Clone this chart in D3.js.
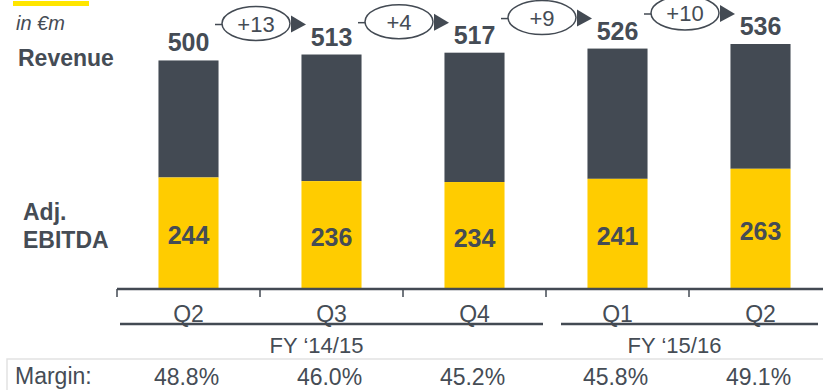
<!DOCTYPE html>
<html>
<head>
<meta charset="utf-8">
<script src="https://cdnjs.cloudflare.com/ajax/libs/d3/7.8.5/d3.min.js"></script>
<style>
body { margin: 0; background: #fff; }
svg { display: block; font-family: "Liberation Sans", Arial, sans-serif; }
.lbl { fill: #454c55; }
.bold { font-weight: bold; }
</style>
</head>
<body>
<div id="chart"></div>
<script>
var quarters = ["Q2", "Q3", "Q4", "Q1", "Q2b"];
var quarterLabels = ["Q2", "Q3", "Q4", "Q1", "Q2"];
var revenue = [500, 513, 517, 526, 536];
var ebitda = [244, 236, 234, 241, 263];
var deltas = ["+13", "+4", "+9", "+10"];
var margins = ["48.8%", "46.0%", "45.2%", "45.8%", "49.1%"];
var years = [
  {label: "FY \u201814/15", from: 0, to: 2},
  {label: "FY \u201815/16", from: 3, to: 4}
];

var W = 823, H = 390;
var dark = "#434a53", text = "#454c55", yellow = "#ffcc00";

var svg = d3.select("#chart").append("svg")
  .attr("width", W).attr("height", H);

var x = d3.scaleBand().domain(quarters)
  .range([117, 832]).paddingInner(0.58).paddingOuter(0.29);
var step = x.step();
var y = d3.scaleLinear().domain([0, 536]).range([289, 44]);

// header
svg.append("rect").attr("x", 13).attr("y", 1).attr("width", 76).attr("height", 5).attr("fill", "#ffe600");
svg.append("text").attr("class", "lbl").attr("x", 16).attr("y", 30)
  .style("font-size", "20px").style("font-style", "italic").text("in \u20acm");

svg.append("text").attr("class", "lbl bold").attr("x", 18).attr("y", 66)
  .style("font-size", "23px").text("Revenue");
svg.append("text").attr("class", "lbl bold").attr("x", 23).attr("y", 220)
  .style("font-size", "23px").text("Adj.");
svg.append("text").attr("class", "lbl bold").attr("x", 23).attr("y", 248)
  .style("font-size", "23px").text("EBITDA");

// bars
var g = svg.selectAll(".bar").data(quarters).enter().append("g");
g.append("rect")
  .attr("x", function(d) { return x(d); })
  .attr("y", function(d, i) { return y(revenue[i]); })
  .attr("width", x.bandwidth())
  .attr("height", function(d, i) { return y(ebitda[i]) - y(revenue[i]); })
  .attr("fill", dark);
g.append("rect")
  .attr("x", function(d) { return x(d); })
  .attr("y", function(d, i) { return y(ebitda[i]); })
  .attr("width", x.bandwidth())
  .attr("height", function(d, i) { return y(0) - y(ebitda[i]); })
  .attr("fill", yellow);
g.append("text").attr("class", "lbl bold")
  .attr("x", function(d) { return x(d) + x.bandwidth() / 2; })
  .attr("y", function(d, i) { return y(revenue[i]) - 9; })
  .attr("text-anchor", "middle").style("font-size", "25px")
  .text(function(d, i) { return revenue[i]; });
g.append("text").attr("class", "lbl bold")
  .attr("x", function(d) { return x(d) + x.bandwidth() / 2; })
  .attr("y", function(d, i) { return (y(ebitda[i]) + y(0)) / 2 + 11; })
  .attr("text-anchor", "middle").style("font-size", "25px")
  .text(function(d, i) { return ebitda[i]; });

// delta bubbles
deltas.forEach(function(t, i) {
  var cx = 117 + step * (i + 1) - 4;
  var cy = y(revenue[i + 1]) - 31;
  var rx = 34, ry = 17;
  svg.append("line").attr("x1", cx - rx - 7).attr("x2", cx - rx)
    .attr("y1", cy + 1).attr("y2", cy + 1).attr("stroke", dark).attr("stroke-width", 1.5);
  svg.append("ellipse").attr("cx", cx).attr("cy", cy).attr("rx", rx).attr("ry", ry)
    .attr("fill", "#fff").attr("stroke", dark).attr("stroke-width", 1.5);
  svg.append("text").attr("class", "lbl").attr("x", cx).attr("y", cy + 8)
    .attr("text-anchor", "middle").style("font-size", "22px").text(t);
  var ax = cx + rx + 1;
  svg.append("path")
    .attr("d", "M" + ax + "," + (cy - 8) + "L" + (ax + 15) + "," + (cy + 1) + "L" + ax + "," + (cy + 9) + "Z")
    .attr("fill", dark);
});

// axis
svg.append("line").attr("x1", 117).attr("x2", W).attr("y1", 289).attr("y2", 289)
  .attr("stroke", dark).attr("stroke-width", 2.5);
d3.range(5).forEach(function(i) {
  var tx = 117 + step * i;
  svg.append("line").attr("x1", tx).attr("x2", tx).attr("y1", 289).attr("y2", 297)
    .attr("stroke", dark).attr("stroke-width", 1.5);
});
svg.selectAll(".q").data(quarters).enter().append("text").attr("class", "lbl")
  .attr("x", function(d) { return x(d) + x.bandwidth() / 2; })
  .attr("y", 322).attr("text-anchor", "middle").style("font-size", "23px")
  .text(function(d, i) { return quarterLabels[i]; });

// fiscal year groups
years.forEach(function(yr, k) {
  var x1 = k === 0 ? 117 + step * yr.from + 3 : 117 + step * yr.from + 15;
  var x2 = k === 0 ? 117 + step * (yr.to + 1) - 3 : 117 + step * (yr.to + 1) - 14;
  svg.append("line").attr("x1", x1).attr("x2", x2).attr("y1", 324).attr("y2", 324)
    .attr("stroke", dark).attr("stroke-width", 2.5);
  svg.append("text").attr("class", "lbl").attr("x", (x1 + x2) / 2 - 15).attr("y", 353)
    .attr("text-anchor", "middle").style("font-size", "22px").text(yr.label);
});

// margin row
svg.append("rect").attr("x", 7).attr("y", 359).attr("width", 830).attr("height", 40)
  .attr("fill", "none").attr("stroke", "#e2e2e2").attr("stroke-width", 1.5);
svg.append("text").attr("class", "lbl").attr("x", 15).attr("y", 384)
  .style("font-size", "23px").text("Margin:");
svg.selectAll(".m").data(quarters).enter().append("text").attr("class", "lbl")
  .attr("x", function(d) { return x(d) + x.bandwidth() / 2 - 2; })
  .attr("y", 385).attr("text-anchor", "middle").style("font-size", "23px")
  .text(function(d, i) { return margins[i]; });
</script>
</body>
</html>
